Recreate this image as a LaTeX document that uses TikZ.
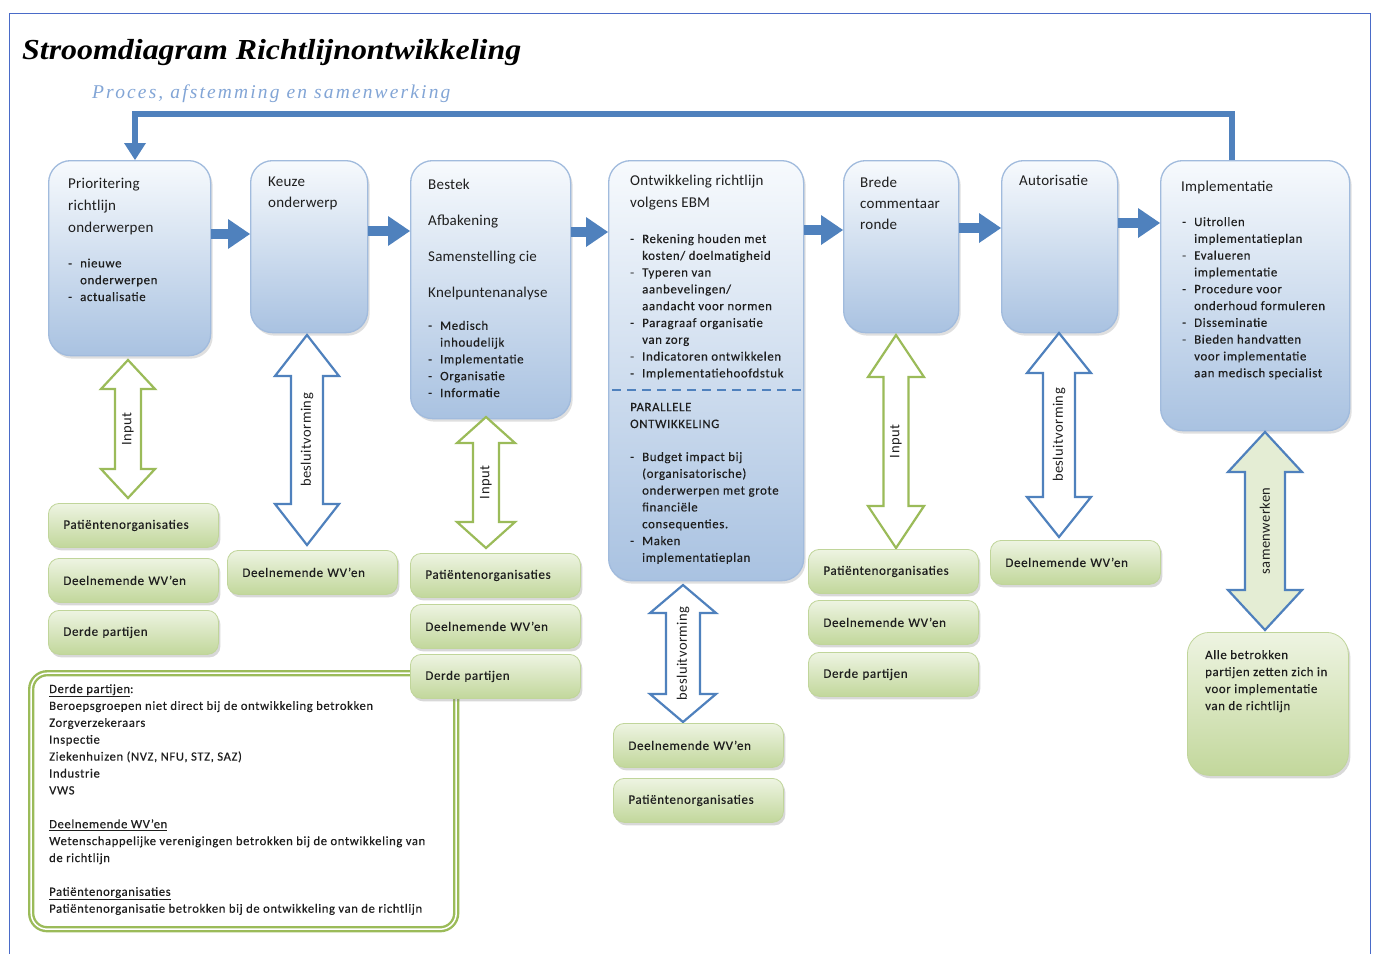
\documentclass[tikz,border=0pt]{standalone}
\usepackage{fontspec}
\setmainfont{Carlito}
\newfontfamily\titlefont[FakeStretch=1.1]{Liberation Serif}
\newfontfamily\subfont[LetterSpace=11]{Liberation Serif}
\newfontfamily\bulfont[LetterSpace=5,FakeBold=0.4]{Carlito}
\newfontfamily\ttlfont[LetterSpace=1.5]{Carlito}
\newfontfamily\labfont[LetterSpace=3]{Carlito}
\usetikzlibrary{arrows.meta,shadows,calc}
\definecolor{mborder}{HTML}{A1BBDD}
\definecolor{mtop}{HTML}{F7FAFD}
\definecolor{mbot}{HTML}{A9C2E1}
\definecolor{gtop}{HTML}{EEF4E2}
\definecolor{gbot}{HTML}{C2D79B}
\definecolor{gborder}{HTML}{C0D59A}
\definecolor{agreen}{HTML}{9BBB59}
\definecolor{ablue}{HTML}{4F81BD}
\definecolor{sfill}{HTML}{E4EDD4}
\definecolor{framec}{HTML}{4A6BC8}
\definecolor{subblue}{HTML}{82A5D6}
\definecolor{txt}{HTML}{1E1E1E}
\newcommand{\bl}[1]{\makebox[12pt][l]{-}#1}
\newcommand{\bc}[1]{\hspace*{12pt}#1}
\newcommand{\dbl}[9]{%
  \draw[#1] (#2,#3) -- ({#2+#5},{#3+#7}) -- ({#2+#6},{#3+#7}) -- ({#2+#6},{#4-#7}) -- ({#2+#5},{#4-#7}) -- (#2,#4) -- ({#2-#5},{#4-#7}) -- ({#2-#6},{#4-#7}) -- ({#2-#6},{#3+#7}) -- ({#2-#5},{#3+#7}) -- cycle;
  \node[alabel] (#9) at (#2,{(#3+#4)/2}) {#8};}
\tikzset{
  mbox/.style={draw=mborder, line width=1.3pt, rounded corners=22pt, top color=mtop, bottom color=mbot,
    drop shadow={opacity=0.25, shadow xshift=2pt, shadow yshift=-3pt}, anchor=north west, inner sep=0pt},
  gbox/.style={draw=gborder, line width=0.8pt, rounded corners=11pt, top color=gtop, bottom color=gbot,
    drop shadow={opacity=0.3, shadow xshift=2pt, shadow yshift=-3pt}, minimum height=44pt, text width=140pt,
    inner xsep=15pt, inner ysep=0pt, align=left, anchor=north west, text=txt, font=\bulfont\fontsize{13}{15}\selectfont},
  ttl/.style={anchor=base west, align=left, inner sep=0pt, text=txt, font=\ttlfont\fontsize{15}{22}\selectfont},
  bul/.style={anchor=base west, align=left, inner sep=0pt, text=txt, font=\bulfont\fontsize{12.8}{16.8}\selectfont},
  flow/.style={draw=ablue, line width=10pt, -{Triangle[length=22pt,width=30pt,line width=0pt]}},
  fb/.style={draw=ablue, line width=6pt, -{Triangle[length=17pt,width=22pt,line width=0pt]}},
  garrow/.style={draw=agreen, line width=2.2pt, fill=white, line join=miter},
  barrow/.style={draw=ablue, line width=2.2pt, fill=white, line join=miter},
  sarrow/.style={draw=ablue, line width=2.2pt, fill=sfill, line join=miter},
  alabel/.style={rotate=90, inner sep=0pt, text=txt, font=\labfont\fontsize{14.5}{16}\selectfont},
  legend/.style={draw=agreen, double=white, double distance=1.5pt, line width=2.4pt, rounded corners=16pt,
    fill=white, anchor=north west, inner sep=0pt, drop shadow={opacity=0.2, shadow xshift=2pt, shadow yshift=-2pt}},
}
\begin{document}
\begin{tikzpicture}[x=1pt,y=-1pt]
\useasboundingbox (0,0) rectangle (1376,954);
\fill[white] (0,0) rectangle (1376,954);
% frame
\draw[framec, line width=1pt] (9,954) -- (9,13) -- (1370,13) -- (1370,954);
% titles
\node[anchor=base west, inner sep=0pt, font=\titlefont\bfseries\itshape\fontsize{29}{30}\selectfont] (title) at (22,59) {Stroomdiagram Richtlijnontwikkeling};
\node[anchor=base west, inner sep=0pt, text=subblue, font=\subfont\itshape\fontsize{19.5}{22}\selectfont] (sub) at (92,98) {Proces, afstemming en samenwerking};

% main boxes
\node[mbox, minimum width=162pt, minimum height=195pt] (prio) at (48,160) {};
\node[mbox, minimum width=117pt, minimum height=172pt] (keuze) at (250,160) {};
\node[mbox, minimum width=160pt, minimum height=258pt] (bestek) at (410,160) {};
\node[mbox, minimum width=195pt, minimum height=420pt] (ontw) at (608,160) {};
\node[mbox, minimum width=115pt, minimum height=172pt] (brede) at (843,160) {};
\node[mbox, minimum width=116pt, minimum height=172pt] (auto) at (1001,160) {};
\node[mbox, minimum width=189pt, minimum height=270pt] (impl) at (1160,160) {};

% feedback arrow
\coordinate (fbr) at (1232,114);
\coordinate (fbl) at (135,114);
\draw[fb] (impl.north -| fbr) -- (fbr) -- (fbl) -- (prio.north -| fbl);

% flow arrows
\draw[flow] (prio.east |- 0,234) -- (keuze.west |- 0,234);
\draw[flow] (keuze.east |- 0,231) -- (bestek.west |- 0,231);
\draw[flow] (bestek.east |- 0,232) -- (ontw.west |- 0,232);
\draw[flow] (ontw.east |- 0,230) -- (brede.west |- 0,230);
\draw[flow] (brede.east |- 0,228) -- (auto.west |- 0,228);
\draw[flow] (auto.east |- 0,223) -- (impl.west |- 0,223);

% box texts (anchor = baseline of the last line)
\node[ttl] (prio-t) at (68,232) {Prioritering\\richtlijn\\onderwerpen};
\node[bul] (prio-b) at (68,301) {\bl{nieuwe}\\\bc{onderwerpen}\\\bl{actualisatie}};
\node[ttl, font=\ttlfont\fontsize{15}{21}\selectfont] (keuze-t) at (268,207) {Keuze\\onderwerp};
\node[ttl, font=\ttlfont\fontsize{15}{36}\selectfont] (bestek-t) at (428,297) {Bestek\\Afbakening\\Samenstelling cie\\Knelpuntenanalyse};
\node[bul] (bestek-b) at (428,397) {\bl{Medisch}\\\bc{inhoudelijk}\\\bl{Implementatie}\\\bl{Organisatie}\\\bl{Informatie}};
\node[ttl] (ontw-t) at (630,207) {Ontwikkeling richtlijn\\volgens EBM};
\node[bul] (ontw-b) at (630,377.4) {\bl{Rekening houden met}\\\bc{kosten/ doelmatigheid}\\\bl{Typeren van}\\\bc{aanbevelingen/}\\\bc{aandacht voor normen}\\\bl{Paragraaf organisatie}\\\bc{van zorg}\\\bl{Indicatoren ontwikkelen}\\\bl{Implementatiehoofdstuk}};
\coordinate (dl) at (612,390);
\coordinate (dr) at (801,390);
\draw[ablue, line width=2pt, dash pattern=on 9pt off 6pt] (dl) -- (dr);
\node[bul] (ontw-p) at (630,428) {PARALLELE\\ONTWIKKELING};
\node[bul] (ontw-c) at (630,561.8) {\bl{Budget impact bij}\\\bc{(organisatorische)}\\\bc{onderwerpen met grote}\\\bc{financiële}\\\bc{consequenties.}\\\bl{Maken}\\\bc{implementatieplan}};
\node[ttl, font=\ttlfont\fontsize{15}{21}\selectfont] (brede-t) at (860,229) {Brede\\commentaar\\ronde};
\node[ttl] (auto-t) at (1019,185) {Autorisatie};
\node[ttl] (impl-t) at (1181,191) {Implementatie};
\node[bul] (impl-b) at (1182,377.2) {\bl{Uitrollen}\\\bc{implementatieplan}\\\bl{Evalueren}\\\bc{implementatie}\\\bl{Procedure voor}\\\bc{onderhoud formuleren}\\\bl{Disseminatie}\\\bl{Bieden handvatten}\\\bc{voor implementatie}\\\bc{aan medisch specialist}};

% double arrows
\dbl{garrow}{128}{360}{498}{27}{13}{29}{Input}{a1}
\dbl{barrow}{307}{335}{545}{32}{16}{41}{besluitvorming}{a2}
\dbl{garrow}{486}{417}{548}{29}{13}{26}{Input}{a3}
\dbl{barrow}{683}{585}{722}{33}{17}{28}{besluitvorming}{a4}
\dbl{garrow}{896}{335}{548}{28}{12.5}{42}{Input}{a5}
\dbl{barrow}{1059}{333}{537}{32}{16}{40}{besluitvorming}{a6}
\dbl{sarrow}{1265}{432}{630}{37}{20}{40}{samenwerken}{a7}

% green boxes
\node[gbox] (pat1) at (48,503) {Patiëntenorganisaties};
\node[gbox] (dwv1) at (48,558) {Deelnemende WV’en};
\node[gbox] (der1) at (48,610) {Derde partijen};
\node[gbox] (dwv2) at (227,550) {Deelnemende WV’en};
\node[gbox] (pat3) at (410,553) {Patiëntenorganisaties};
\node[gbox] (dwv3) at (410,604) {Deelnemende WV’en};
\node[gbox] (dwv4) at (613,723) {Deelnemende WV’en};
\node[gbox] (pat4) at (613,778) {Patiëntenorganisaties};
\node[gbox] (pat5) at (808,549) {Patiëntenorganisaties};
\node[gbox] (dwv5) at (808,600) {Deelnemende WV’en};
\node[gbox] (der5) at (808,652) {Derde partijen};
\node[gbox] (dwv6) at (990,540) {Deelnemende WV’en};
\node[gbox, rounded corners=22pt, minimum height=143pt, text width=131pt] (alle) at (1187,632) {};
\node[bul, font=\bulfont\fontsize{12.8}{17}\selectfont] (alle-t) at (1205,710) {Alle betrokken\\partijen zetten zich in\\voor implementatie\\van de richtlijn};

% legend
\node[legend, minimum width=425pt, minimum height=256pt] (leg) at (30,672) {};
\node[bul, font=\bulfont\fontsize{12.6}{16.9}\selectfont] (leg-t) at (49,912.7) {\underline{Derde partijen}:\\Beroepsgroepen niet direct bij de ontwikkeling betrokken\\Zorgverzekeraars\\Inspectie\\Ziekenhuizen (NVZ, NFU, STZ, SAZ)\\Industrie\\VWS\\[16.9pt]\underline{Deelnemende WV’en}\\Wetenschappelijke verenigingen betrokken bij de ontwikkeling van\\de richtlijn\\[16.9pt]\underline{Patiëntenorganisaties}\\Patiëntenorganisatie  betrokken bij de ontwikkeling van de richtlijn};
\node[gbox] (der3) at (410,654) {Derde partijen};
\end{tikzpicture}
\end{document}
